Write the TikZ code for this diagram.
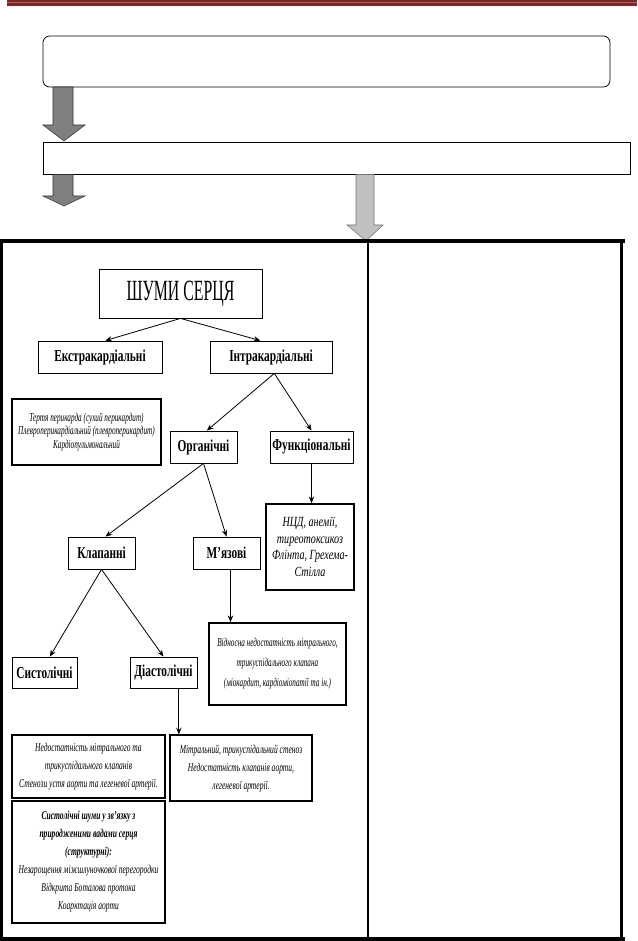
\documentclass[tikz,border=0pt]{standalone}
\usepackage{fontspec}
\setmainfont{Liberation Serif}
\newfontfamily\titlefont[FakeStretch=0.54]{Liberation Serif}
\newfontfamily\labfont[FakeStretch=0.68]{Liberation Serif}
\newfontfamily\itfont[FakeStretch=0.63]{Liberation Serif}
\newfontfamily\itnfont[FakeStretch=0.6]{Liberation Serif}
\newfontfamily\itwfont[FakeStretch=0.72]{Liberation Serif}
\usetikzlibrary{shadows,arrows.meta,calc}
\definecolor{barred}{RGB}{125,38,40}
\definecolor{darkarr}{RGB}{128,128,128}
\definecolor{lightarr}{RGB}{192,192,192}
\tikzset{
  box/.style={draw, line width=0.6pt, inner sep=0pt, align=center, fill=white},
  lab/.style={box, font=\labfont\fontsize{12.5}{14}\selectfont\bfseries, minimum height=24pt},
  ibox/.style={box, line width=0.9pt, font=\itfont\fontsize{9}{13.5}\selectfont\itshape},
  shad/.style={drop shadow={shadow xshift=1.1pt, shadow yshift=-1.1pt, fill=black!70, opacity=0.8}},
  thickbox/.style={line width=1.3pt},
  conn/.style={draw, line width=0.6pt, -{Stealth[length=5pt,width=4pt]}},
  frameline/.style={line width=2.4pt, line cap=rect},
}
\begin{document}
\begin{tikzpicture}[x=0.75pt,y=-0.75pt]
\useasboundingbox (0,0) rectangle (637,941);
% top red bar
\fill[barred] (7,0) rectangle (637,6);
\fill[barred!70!white] (7,2) rectangle (637,3);
% top boxes
\node[draw, line width=0.6pt, rounded corners=5pt, minimum width=425.25pt, minimum height=38.25pt, inner sep=0pt] (topbox) at (326.5,61.5) {};
\node[draw, line width=0.6pt, minimum width=440.25pt, minimum height=24pt, inner sep=0pt] (midbox) at (336.5,158) {};
% block arrows
\filldraw[fill=darkarr, draw=black!80, line width=0.4pt] (53,87) -- (73,87) -- (73,125) -- (85,125) -- (64,141) -- (43,125) -- (53,125) -- cycle;
\filldraw[fill=darkarr, draw=black!80, line width=0.4pt] (53,174.5) -- (73,174.5) -- (73,196) -- (85,196) -- (64,206) -- (43,196) -- (53,196) -- cycle;
\filldraw[fill=lightarr, draw=black!55, line width=0.4pt] (356,174.5) -- (374,174.5) -- (374,225) -- (383,225) -- (366,241) -- (347,225) -- (356,225) -- cycle;
% frame
\draw[line width=0.8pt] (368,241) -- (368,941);
\draw[frameline] (0,241) -- (623,241);
\draw[frameline] (1.5,241) -- (1.5,939);
\draw[frameline] (621.5,241) -- (621.5,939);
\draw[frameline] (0,939) -- (623,939);
% tree
\node[box, minimum width=122.25pt, minimum height=36.75pt, font=\titlefont\fontsize{22}{24}\selectfont] (shumy) at (180.5,293.5) {ШУМИ СЕРЦЯ};
\node[lab, minimum width=93pt] (ekstra) at (100,357) {Екстракардіальні};
\node[lab, minimum width=91.5pt] (intra) at (271,357) {Інтракардіальні};
\node[ibox, shad, minimum width=111.75pt, minimum height=49.5pt, font=\itnfont\fontsize{9}{10}\selectfont\itshape] (tertya) at (86.5,432) {Тертя перикарда (сухий перикардит)\\Плевроперикардіальний (плевроперикардит)\\Кардіопульмональний};
\node[lab, minimum width=50.25pt] (organ) at (203.5,447) {Органічні};
\node[lab, minimum width=62.25pt] (funct) at (311.5,447) {Функціональні};
\node[ibox, thickbox, minimum width=66pt, minimum height=64.5pt, font=\itwfont\fontsize{10.5}{12.5}\selectfont\itshape] (ncd) at (310,547) {НЦД, анемії,\\тиреотоксикоз\\Флінта, Грехема-\\Стілла};
\node[lab, minimum width=50.25pt] (klap) at (101.5,553) {Клапанні};
\node[lab, minimum width=50.25pt] (myaz) at (226.5,553) {М’язові};
\node[ibox, thickbox, minimum width=102.75pt, minimum height=61.5pt, font=\itnfont\fontsize{9}{15}\selectfont\itshape] (vidn) at (277.5,664) {Відносна недостатність мітрального,\\трикуспідального клапана\\(міокардит, кардіоміопатії та ін.)};
\node[lab, minimum width=48.75pt, minimum height=23.25pt] (sys) at (44.5,672.5) {Систолічні};
\node[lab, minimum width=50.25pt, minimum height=23.25pt] (dia) at (163.5,672.5) {Діастолічні};
\node[ibox, shad, minimum width=114.75pt, minimum height=47.25pt] (nedost) at (88.5,766.5) {Недостатність мітрального та\\трикуспідального клапанів\\Стенози устя аорти та легеневої артерії.};
\node[ibox, shad, minimum width=106.5pt, minimum height=49.5pt] (mitral) at (241,768) {Мітральний, трикуспідальний стеноз\\Недостатність клапанів аорти,\\легеневої артерії.};
\node[ibox, shad, minimum width=114.75pt, minimum height=91.5pt] (sysw) at (88.5,862) {{\bfseries Систолічні шуми у зв’язку з}\\{\bfseries природженими вадами серця}\\{\bfseries (структурні):}\\Незарощення міжшлуночкової перегородки\\Відкрита Боталова протока\\Коарктація аорти};
% connectors
\draw[conn] (shumy.south) -- ([xshift=4pt]ekstra.north);
\draw[conn] (shumy.south) -- ([xshift=-8pt]intra.north);
\draw[conn] ([xshift=2.5pt]intra.south) -- ([xshift=2.5pt]organ.north);
\draw[conn] ([xshift=2.5pt]intra.south) -- (funct.north);
\draw[conn] (organ.south) -- ([xshift=3pt]klap.north);
\draw[conn] (organ.south) -- (myaz.north);
\draw[conn] (klap.south) -- ([xshift=4pt]sys.north);
\draw[conn] (klap.south) -- (dia.north);
\draw[conn] (funct.south) -- (funct.south |- ncd.north);
\draw[conn] ([xshift=3pt]myaz.south) -- ([xshift=3pt]myaz.south |- vidn.north);
\draw[conn] ([xshift=11.5pt]dia.south) -- ([xshift=11.5pt]dia.south |- mitral.north);
\end{tikzpicture}
\end{document}
